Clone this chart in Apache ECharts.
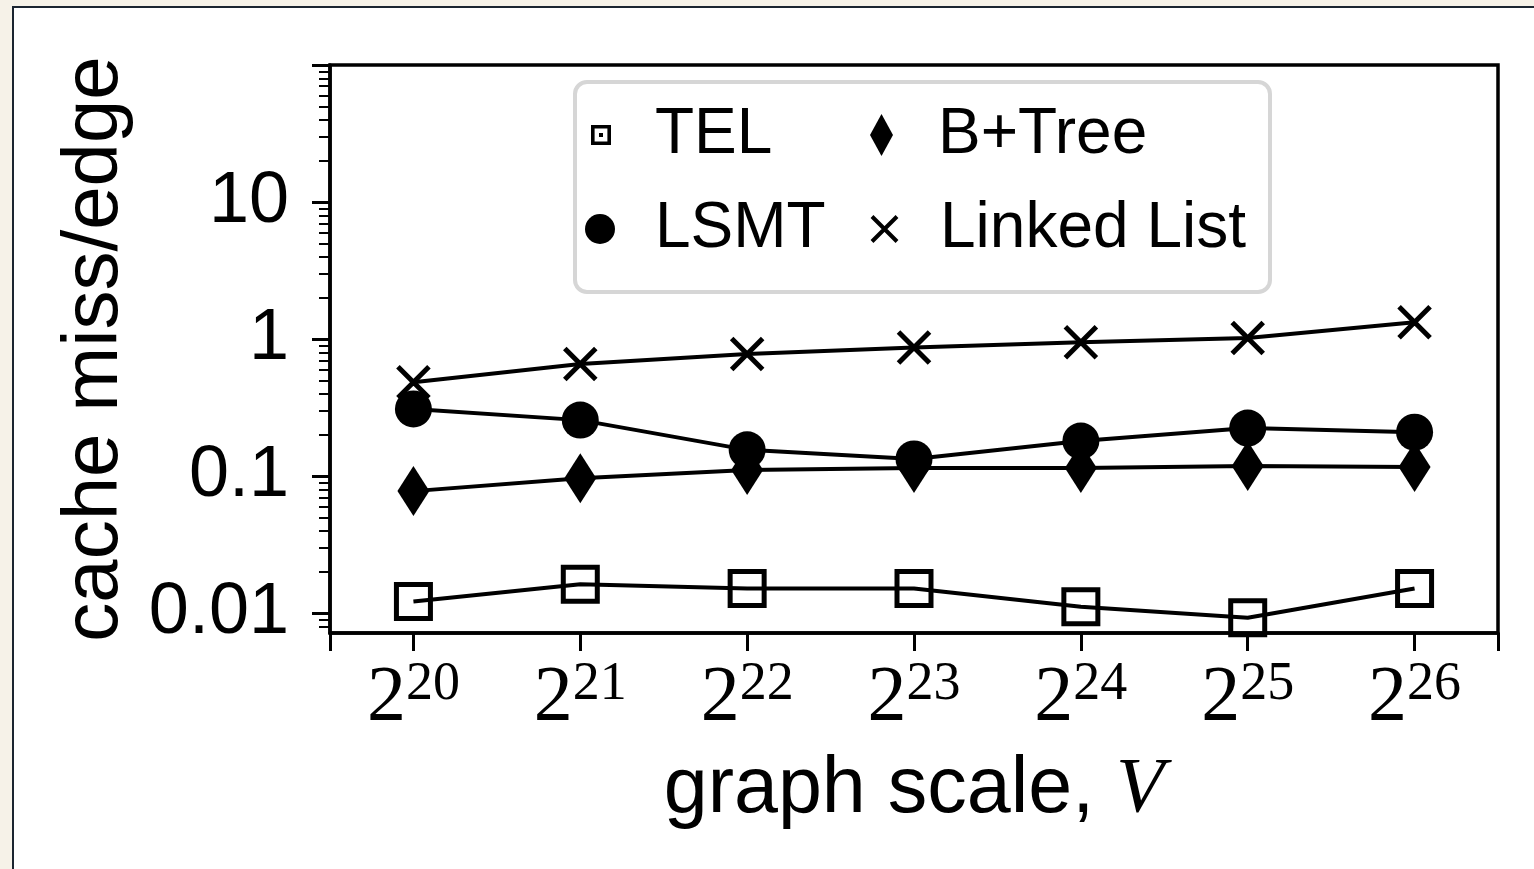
<!DOCTYPE html>
<html>
<head>
<meta charset="utf-8">
<script src="https://cdn.jsdelivr.net/npm/echarts@6/dist/echarts.min.js"></script>
<style>
  html, body { margin: 0; padding: 0; width: 1534px; height: 869px; overflow: hidden; background: #f6f2e8; }
  #card { position: absolute; left: 12px; top: 6px; width: 1600px; height: 900px; background: #ffffff;
          border-left: 2px solid #1b2530; border-top: 2px solid #1b2530; }
  #chart { position: absolute; left: 0; top: 0; width: 1534px; height: 869px; }
</style>
</head>
<body>
<div id="card"></div>
<div id="chart"></div>
<script>
// ---- data ----
const scaleExponents = [20, 21, 22, 23, 24, 25, 26];          // graph scale V = 2^exp
const telValues      = [0.0122, 0.0163, 0.0152, 0.0152, 0.0112, 0.0093, 0.0152];
const lsmtValues     = [0.31, 0.257, 0.156, 0.134, 0.181, 0.225, 0.21];
const bptreeValues   = [0.078, 0.097, 0.111, 0.115, 0.115, 0.119, 0.117];
const linkedValues   = [0.486, 0.66, 0.78, 0.87, 0.95, 1.02, 1.33];
const yMajorTicks    = [0.01, 0.1, 1, 10, 100];
const yLabelTicks    = [0.01, 0.1, 1, 10];
const yMinorTicks    = [0.008, 0.009,
  0.02, 0.03, 0.04, 0.05, 0.06, 0.07, 0.08, 0.09,
  0.2, 0.3, 0.4, 0.5, 0.6, 0.7, 0.8, 0.9,
  2, 3, 4, 5, 6, 7, 8, 9,
  20, 30, 40, 50, 60, 70, 80, 90];
const xTickValues    = [19.5, 20, 21, 22, 23, 24, 25, 26, 26.5];
const yLabelText     = { '0.01': '0.01', '0.1': '0.1', '1': '1', '10': '10' };

const SANS = 'Liberation Sans, Arial, Helvetica, sans-serif';
const SERIF = 'Liberation Serif, Times New Roman, serif';

const pairs = arr => scaleExponents.map((e, i) => [e, arr[i]]);
const crossPath = 'path://M0,0L10,10M10,0L0,10';
const squareDotPath = 'path://M0,0H10V10H0Z M1.8,1.8V8.2H8.2V1.8Z M4,4H6V6H4Z';

const chart = echarts.init(document.getElementById('chart'), null, { renderer: 'canvas' });

const lineBase = {
  type: 'line',
  xAxisIndex: 0, yAxisIndex: 0,
  lineStyle: { color: '#000', width: 4 },
  emphasis: { disabled: true },
  clip: false,
  silent: true
};

function mkLegend(name, left, top, w, h, icon, itemStyle, pad) {
  return {
    show: true, orient: 'horizontal', left: left, top: top, padding: 0,
    itemWidth: w, itemHeight: h, selectedMode: false,
    data: [{ name: name, icon: icon, itemStyle: itemStyle }],
    textStyle: { fontFamily: SANS, fontSize: 64, lineHeight: 64, color: '#000', padding: [0, 0, 0, pad] }
  };
}

const option = {
  animation: false,
  backgroundColor: 'transparent',
  grid: { left: 330, right: 36, top: 65, bottom: 236, show: true, borderColor: '#000', borderWidth: 3.5, backgroundColor: 'transparent' },
  xAxis: [{
    type: 'value', min: 19.5, max: 26.5,
    name: '{a|graph scale, }{v|V}', nameLocation: 'middle', nameGap: 117,
    nameTextStyle: {
      rich: {
        a: { fontFamily: SANS, fontSize: 79, lineHeight: 80, color: '#000' },
        v: { fontFamily: SERIF, fontStyle: 'italic', fontSize: 79, lineHeight: 80, color: '#000' }
      }
    },
    splitLine: { show: false },
    axisLine: { show: true, lineStyle: { color: '#000', width: 3.5 } },
    axisTick: { show: true, customValues: xTickValues, length: 18, lineStyle: { color: '#000', width: 3 } },
    axisLabel: {
      show: true, customValues: scaleExponents, margin: 25,
      formatter: v => '{b|2}{s|' + v + '}',
      rich: {
        b: { fontFamily: SERIF, fontSize: 78, lineHeight: 80, color: '#000', verticalAlign: 'bottom' },
        s: { fontFamily: SERIF, fontSize: 54, lineHeight: 34, color: '#000', verticalAlign: 'top' }
      }
    }
  }],
  yAxis: [{
    type: 'log', logBase: 10, min: 0.0072, max: 100,
    name: 'cache miss/edge', nameLocation: 'middle', nameGap: 196,
    nameTextStyle: { fontFamily: SANS, fontSize: 78, color: '#000' },
    splitLine: { show: false },
    axisLine: { show: true, lineStyle: { color: '#000', width: 3.5 } },
    axisTick: { show: true, customValues: yMajorTicks, length: 18, lineStyle: { color: '#000', width: 3 } },
    axisLabel: {
      show: true, customValues: yLabelTicks, margin: 41,
      fontFamily: SANS, fontSize: 72, color: '#000',
      formatter: v => yLabelText[String(Number(v.toPrecision(3)))] || String(v)
    }
  }, {
    type: 'log', logBase: 10, min: 0.0072, max: 100, position: 'left',
    splitLine: { show: false },
    axisLine: { show: false },
    axisLabel: { show: false },
    axisTick: { show: true, customValues: yMinorTicks, length: 11, lineStyle: { color: '#000', width: 2 } }
  }],
  graphic: [{
    type: 'rect', z: 3, silent: true,
    shape: { x: 575, y: 82, width: 695, height: 210, r: 12 },
    style: { fill: '#fff', stroke: '#d6d6d6', lineWidth: 4 }
  }],
  legend: [
    mkLegend('TEL', 591, 103, 20, 20, squareDotPath, { color: '#000', borderWidth: 0 }, 39),
    mkLegend('LSMT', 585, 197, 30, 30, 'circle', { color: '#000', borderWidth: 0 }, 35),
    mkLegend('B+Tree', 870, 103, 23, 42, 'diamond', { color: '#000', borderWidth: 0 }, 40),
    mkLegend('Linked List', 870, 197, 25, 25, crossPath, { color: '#000', borderColor: '#000', borderWidth: 4 }, 38)
  ],
  series: [
    Object.assign({}, lineBase, {
      name: 'TEL', data: pairs(telValues), symbol: 'rect', symbolSize: 34,
      itemStyle: { color: 'rgba(0,0,0,0)', borderColor: '#000', borderWidth: 5 }
    }),
    Object.assign({}, lineBase, {
      name: 'LSMT', data: pairs(lsmtValues), symbol: 'circle', symbolSize: 37,
      itemStyle: { color: '#000', borderWidth: 0 }
    }),
    Object.assign({}, lineBase, {
      name: 'B+Tree', data: pairs(bptreeValues), symbol: 'diamond', symbolSize: [32, 50],
      itemStyle: { color: '#000', borderWidth: 0 }
    }),
    Object.assign({}, lineBase, {
      name: 'Linked List', data: pairs(linkedValues), symbol: crossPath, symbolSize: 31,
      itemStyle: { color: '#000', borderColor: '#000', borderWidth: 5 }
    })
  ]
};

chart.setOption(option);
</script>
</body>
</html>
